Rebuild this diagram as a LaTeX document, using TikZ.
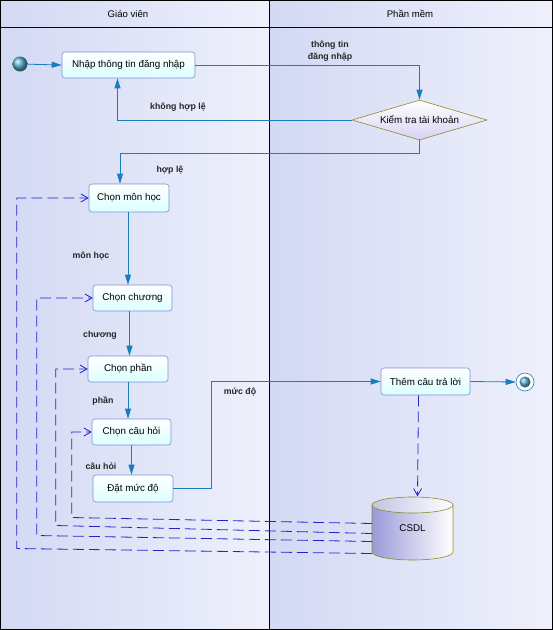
\documentclass[tikz,border=0pt]{standalone}
\usepackage{fontspec}
\setmainfont{Liberation Sans}
\usetikzlibrary{shapes.geometric,arrows.meta}
\definecolor{flow}{HTML}{1A7DBE}
\definecolor{dep}{HTML}{2323CC}
\definecolor{actb}{HTML}{7F8FD8}
\definecolor{olive}{HTML}{8C8A2C}
\definecolor{laneA}{HTML}{D3D9F4}
\definecolor{laneB}{HTML}{EEF0FB}
\definecolor{cylA}{HTML}{9A9AD8}
\definecolor{cylT}{HTML}{C4C4E4}
\definecolor{ballc}{HTML}{5AB0D0}
\definecolor{diaB}{HTML}{D6D2F2}
\begin{document}
\begin{tikzpicture}[x=1pt,y=-1pt,
  act/.style={draw=actb, rounded corners=3pt, top color=white, bottom color=cyan!14, font=\fontsize{9.8}{11}\selectfont, inner sep=1pt, line width=0.6pt},
  lbl/.style={font=\bfseries\fontsize{8.8}{12}\selectfont, align=center, text=black!85},
  flowline/.style={draw=flow, line width=0.8pt, -{Triangle[length=10pt,width=6pt]}},
  depline/.style={draw=dep, line width=0.8pt, dash pattern=on 11pt off 5pt, -{Straight Barb[length=7pt,width=8pt]}},
  hdr/.style={font=\fontsize{9.6}{11}\selectfont}]
\useasboundingbox (0,0) rectangle (553,630);
% lanes
\shade[left color=laneA, right color=laneB] (0,0) rectangle (269,629);
\shade[left color=laneA, right color=laneB] (269,0) rectangle (552,629);
\draw[black, line width=0.6pt] (0.5,0.5) rectangle (552,629) (269,0.5) -- (269,629) (0.5,27) -- (552,27);
\node[hdr] (h1) at (128,14) {Giáo viên};
\node[hdr] (h2) at (410,14) {Phần mềm};
% start / end
\shade[ball color=ballc] (20,64) circle[radius=7.5pt];
\node[circle, minimum size=15pt, inner sep=0pt] (start) at (20,64) {};
\node[circle, draw=flow, fill=white, minimum size=18pt, inner sep=0pt, line width=0.6pt] (end) at (525,382) {};
\shade[ball color=ballc] (525,382) circle[radius=5.5pt];
% nodes
\node[act, minimum width=133pt, minimum height=26pt] (login) at (128.5,65) {Nhập thông tin đăng nhập};
\node[diamond, draw=olive, top color=white, bottom color=diaB, aspect=3.4, minimum width=135pt, minimum height=40pt, inner sep=0pt, font=\fontsize{9.8}{11}\selectfont, line width=0.6pt] (check) at (419.5,120) {Kiểm tra tài khoản};
\node[act, minimum width=80pt, minimum height=28pt] (monhoc) at (129,198) {Chọn môn học};
\node[act, minimum width=79pt, minimum height=26pt] (chuong) at (132.5,298) {Chọn chương};
\node[act, minimum width=80pt, minimum height=26pt] (phan) at (128,369) {Chọn phần};
\node[act, minimum width=79pt, minimum height=26pt] (cauhoi) at (131.5,432) {Chọn câu hỏi};
\node[act, minimum width=80pt, minimum height=27pt] (mucdo) at (133,488.5) {Đặt mức độ};
\node[act, minimum width=89pt, minimum height=27pt] (them) at (425.5,381.5) {Thêm câu trả lời};
% cylinder CSDL
\shade[left color=cylA, right color=white] (372,505) rectangle (453,552);
\shade[left color=cylA, right color=white] (412.5,552) ellipse[x radius=40.5pt, y radius=8pt];
\shade[left color=cylT, right color=white] (412.5,505) ellipse[x radius=40.5pt, y radius=8pt];
\draw[olive, line width=0.6pt] (372,505) -- (372,552) arc[start angle=180, end angle=360, x radius=40.5pt, y radius=8pt] -- (453,505);
\draw[olive, line width=0.6pt] (412.5,505) ellipse[x radius=40.5pt, y radius=8pt];
\node[minimum width=81pt, minimum height=64pt, inner sep=0pt, font=\fontsize{9.8}{11}\selectfont] (csdl) at (412.5,528.5) {CSDL};
% flows
\draw[flowline] (start) -- (login.west);
\draw[flowline] (login.east) -| (check.north);
\draw[flowline] (check.west) -| ([xshift=-11pt]login.south);
\draw[flowline] (check.south) -- ++(0,13) -| ([xshift=-9pt]monhoc.north);
\draw[flowline] ([xshift=-1pt]monhoc.south) -- ([xshift=-1pt]monhoc.south |- chuong.north);
\draw[flowline] ([xshift=-3pt]chuong.south) -- ([xshift=-3pt]chuong.south |- phan.north);
\draw[flowline] (phan.south) -- (phan.south |- cauhoi.north);
\draw[flowline] (cauhoi.south) -- (cauhoi.south |- mucdo.north);
\draw[flowline] (mucdo.east) -- ++(38,0) |- (them.west);
\draw[flowline] (them.east) -- (end.west);
% dependencies
\draw[depline] ([xshift=-7pt]them.south) -- ([xshift=5pt]csdl.north);
\draw[depline] ([yshift=5pt]csdl.west) -- ++(-300,-6) |- (cauhoi.west);
\draw[depline] ([yshift=-5pt]csdl.west) -- ++(-316,-8) |- (phan.west);
\draw[depline] ([yshift=-13pt]csdl.west) -- ++(-335,-6) |- (chuong.west);
\draw[depline] ([yshift=-25pt]csdl.west) -- ++(-355,-5) |- (monhoc.west);
% labels
\node[lbl] (l1) at (330,51) {thông tin\\đăng nhập};
\node[lbl] (l2) at (178,107) {không hợp lệ};
\node[lbl] (l3) at (170,170) {hợp lệ};
\node[lbl] (l4) at (91,256) {môn học};
\node[lbl] (l5) at (100,335) {chương};
\node[lbl] (l6) at (103,401) {phần};
\node[lbl] (l7) at (101,466) {câu hỏi};
\node[lbl] (l8) at (240,392) {mức độ};
\end{tikzpicture}
\end{document}
